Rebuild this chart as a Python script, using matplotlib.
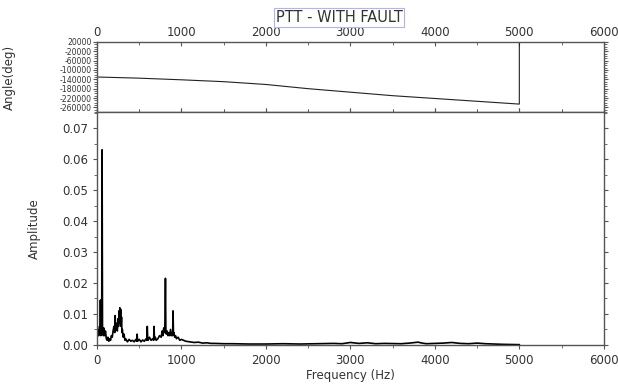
"""
PTT - with fault: phase angle and amplitude spectrum
"""
import numpy as np
import matplotlib.pyplot as plt
from matplotlib.ticker import MultipleLocator

# ==========================
# data
# ==========================
angle_freq = [0, 500, 1000, 1500, 2000, 2500, 3000, 3500, 4000, 4500, 5000, 5000]
angle_deg = [-130000, -135000, -142000, -150000, -162000, -180000, -195000,
             -210000, -222000, -234000, -246000, 60000]

spec_freq = [0, 10, 20, 30, 35, 40, 45, 50, 55, 60, 65, 70, 75, 80, 90, 100,
             110, 120, 130, 140, 150, 160, 170, 180, 190, 200, 210, 215, 220,
             230, 240, 250, 255, 260, 265, 270, 275, 280, 285, 290, 295, 300,
             310, 320, 330, 340, 360, 380, 400, 420, 440, 460, 470, 475, 480,
             500, 520, 540, 560, 580, 590, 595, 600, 605, 620, 640, 660, 670,
             675, 680, 690, 700, 720, 740, 760, 770, 780, 790, 800, 805, 810,
             815, 820, 830, 840, 850, 860, 870, 880, 890, 895, 900, 905, 910,
             920, 930, 940, 960, 980, 1000, 1050, 1100, 1150, 1200, 1250, 1300,
             1350, 1400, 1500, 1600, 1800, 2000, 2200, 2400, 2600, 2800, 2900,
             3000, 3100, 3200, 3300, 3400, 3600, 3700, 3800, 3850, 3900, 4000,
             4100, 4200, 4300, 4400, 4500, 4600, 4800, 5000]
spec_amp = [0.0020, 0.0050, 0.0030, 0.0060, 0.0040, 0.0145, 0.0030, 0.0060,
            0.0035, 0.0630, 0.0040, 0.0050, 0.0030, 0.0055, 0.0030, 0.0045,
            0.0020, 0.0015, 0.0025, 0.0012, 0.0020, 0.0015, 0.0030, 0.0025,
            0.0045, 0.0060, 0.0040, 0.0095, 0.0050, 0.0070, 0.0045, 0.0085,
            0.0060, 0.0110, 0.0070, 0.0120, 0.0080, 0.0115, 0.0060, 0.0090,
            0.0040, 0.0050, 0.0025, 0.0035, 0.0015, 0.0020, 0.0010, 0.0018,
            0.0012, 0.0015, 0.0010, 0.0018, 0.0012, 0.0035, 0.0012, 0.0018,
            0.0010, 0.0016, 0.0012, 0.0020, 0.0015, 0.0060, 0.0020, 0.0015,
            0.0025, 0.0015, 0.0020, 0.0015, 0.0060, 0.0018, 0.0025, 0.0015,
            0.0020, 0.0030, 0.0025, 0.0045, 0.0030, 0.0055, 0.0040, 0.0080,
            0.0215, 0.0050, 0.0035, 0.0045, 0.0030, 0.0040, 0.0030, 0.0050,
            0.0030, 0.0040, 0.0030, 0.0110, 0.0035, 0.0040, 0.0025, 0.0030,
            0.0020, 0.0025, 0.0015, 0.0018, 0.0012, 0.0010, 0.0008, 0.0009,
            0.0006, 0.0007, 0.0005, 0.0005, 0.0004, 0.0004, 0.0003, 0.0003,
            0.0004, 0.0003, 0.0004, 0.0005, 0.0004, 0.0008, 0.0005, 0.0007,
            0.0004, 0.0005, 0.0004, 0.0006, 0.0009, 0.0006, 0.0004, 0.0005,
            0.0006, 0.0008, 0.0005, 0.0004, 0.0006, 0.0004, 0.0002, 0.0001]

angle_ticks = list(range(20000, -280001, -40000))

# ==========================
# figure
# ==========================
fig = plt.figure(figsize=(6.18, 3.85), dpi=100)
ax1 = fig.add_axes([0.157, 0.709, 0.820, 0.182])
ax2 = fig.add_axes([0.157, 0.104, 0.820, 0.605])
txt = "#333333"

for ax in (ax1, ax2):
    for s in ax.spines.values():
        s.set_color("#555555")
        s.set_linewidth(1.0)

# top panel: angle
ax1.plot(angle_freq, angle_deg, color="#222222", lw=0.8)
ax1.set_xlim(0, 6000)
ax1.set_ylim(-280000, 20000)
ax1.xaxis.set_major_locator(MultipleLocator(1000))
ax1.xaxis.set_minor_locator(MultipleLocator(500))
ax1.set_yticks(angle_ticks)
ax1.set_yticklabels([str(v) for v in angle_ticks])
ax1.yaxis.set_minor_locator(MultipleLocator(10000))
ax1.tick_params(axis="x", which="both", direction="in", top=True, bottom=True,
                labeltop=True, labelbottom=False, colors="#555555",
                labelcolor=txt, labelsize=8.5, length=3, pad=2)
ax1.tick_params(axis="x", which="minor", length=2)
ax1.tick_params(axis="y", which="both", direction="out", right=True,
                colors="#555555", labelcolor=txt, labelsize=5.6, length=3,
                pad=1)
ax1.tick_params(axis="y", which="minor", length=2)
ax1.set_ylabel("Angle(deg)", fontsize=8.5, color=txt)
ax1.yaxis.set_label_coords(-0.160, 0.5)

# bottom panel: amplitude spectrum
ax2.plot(spec_freq, spec_amp, color="black", lw=1.2)
ax2.set_xlim(0, 6000)
ax2.set_ylim(0, 0.0752)
ax2.xaxis.set_major_locator(MultipleLocator(1000))
ax2.xaxis.set_minor_locator(MultipleLocator(500))
ax2.yaxis.set_major_locator(MultipleLocator(0.01))
ax2.yaxis.set_minor_locator(MultipleLocator(0.005))
ax2.yaxis.set_major_formatter(plt.FormatStrFormatter("%.2f"))
ax2.tick_params(axis="both", which="both", direction="out", top=True,
                right=True, colors="#555555", labelcolor=txt, labelsize=8.5,
                length=3)
ax2.tick_params(which="minor", length=2)
ax2.set_xlabel("Frequency (Hz)", fontsize=8.5, color=txt)
ax2.xaxis.set_label_coords(0.5, -0.105)
ax2.set_ylabel("Amplitude", fontsize=8.5, color=txt)
ax2.yaxis.set_label_coords(-0.110, 0.5)

fig.text(0.549, 0.955, "PTT - WITH FAULT", ha="center", va="center",
         fontsize=10.5, color=txt,
         bbox=dict(boxstyle="square,pad=0.12", fc="white", ec="#b0b4f0",
                   lw=0.8))

plt.savefig("out.png", dpi=100)
plt.close()
